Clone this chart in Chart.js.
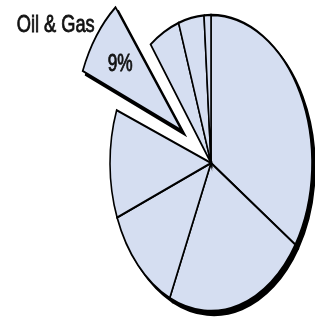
<!DOCTYPE html>
<html>
<head>
<meta charset="utf-8">
<script src="https://cdn.jsdelivr.net/npm/chart.js@4"></script>
<style>
  html, body { margin: 0; background: #fff; }
  #wrap { width: 315px; height: 327px; }
</style>
</head>
<body>
<div id="wrap"><canvas id="pieChart"></canvas></div>
<script>
// shares, clockwise from 12 o'clock
const sectors = ['Sector A', 'Sector B', 'Sector C', 'Sector D', 'Oil & Gas', 'Sector E', 'Sector F', 'Sector G'];
const sectorShares = [34.3, 22.4, 12.3, 11.8, 9, 5.0, 4.1, 1.1];
const explodedSector = 'Oil & Gas';
const explodedLabel = '9%';

const explodedIndex = sectors.indexOf(explodedSector);
const pieRadius = 148;          // vertical radius
const squashX = 101 / 148;      // pie is drawn as an upright ellipse
const explodeOffset = 215;
const fillBlue = '#d5def1';

function squash(ctx, x, y) {
  ctx.translate(x, y);
  ctx.scale(squashX, 1);
  ctx.translate(-x, -y);
}

function drawFitted(ctx, text, x, y, size, width, align) {
  ctx.save();
  ctx.font = size + 'px "Liberation Sans Narrow", "Liberation Sans", sans-serif';
  const k = width / ctx.measureText(text).width;
  ctx.translate(x, y);
  ctx.scale(k, 1);
  ctx.textAlign = align;
  ctx.textBaseline = 'alphabetic';
  ctx.fillStyle = '#111';
  ctx.strokeStyle = '#111';
  ctx.lineWidth = 0.8;
  ctx.fillText(text, 0, 0);
  ctx.strokeText(text, 0, 0);
  ctx.restore();
}

const ellipsePie = {
  id: 'ellipsePie',
  afterDatasetsUpdate(chart) {
    // exploded wedge is a bit longer than the rest
    const arc = chart.getDatasetMeta(0).data[explodedIndex];
    const fix = 1 - Math.sin(Math.min(Math.PI, arc.circumference));
    arc.outerRadius = pieRadius * 1.06 - (explodeOffset / 4) * fix;
  },
  beforeDatasetsDraw(chart) {
    const ctx = chart.ctx;
    const arcs = chart.getDatasetMeta(0).data;
    const {x, y} = arcs[0];
    // hard drop shadow
    ctx.save();
    ctx.translate(3, 4);
    squash(ctx, x, y);
    arcs.forEach(a => {
      const o = a.options;
      a.options = Object.assign({}, o, {backgroundColor: '#000', borderColor: '#000'});
      a.draw(ctx);
      a.options = o;
    });
    ctx.restore();
    ctx.save();
    squash(ctx, x, y);
  },
  afterDatasetsDraw(chart) {
    const ctx = chart.ctx;
    ctx.restore();
    const arc = chart.getDatasetMeta(0).data[explodedIndex];
    const shift = explodeOffset / 4;
    const mid = (arc.startAngle + arc.endAngle) / 2;
    const fix = 1 - Math.sin(Math.min(Math.PI, arc.circumference));
    const outer = arc.outerRadius + shift * fix;

    const d = shift + 0.72 * outer;
    const lx = arc.x + Math.cos(mid) * d * squashX;
    const ly = arc.y + Math.sin(mid) * d;
    drawFitted(ctx, explodedLabel, lx, ly + 9, 23, 25, 'center');

    const cx = Math.cos(mid) * shift + Math.cos(arc.endAngle) * outer;
    const cy = Math.sin(mid) * shift + Math.sin(arc.endAngle) * outer;
    const tx = arc.x + cx * squashX;
    const ty = arc.y + cy;
    drawFitted(ctx, explodedSector, tx - 23, ty + 27, 24, 78, 'right');
  }
};

new Chart(document.getElementById('pieChart'), {
  type: 'pie',
  data: {
    labels: sectors,
    datasets: [{
      data: sectorShares,
      backgroundColor: fillBlue,
      borderColor: '#000',
      borderWidth: 2.3,
      borderJoinStyle: 'miter',
      radius: pieRadius,
      cutout: '0%',
      offset: sectors.map(s => s === explodedSector ? explodeOffset : 0),
      clip: false
    }]
  },
  options: {
    responsive: true,
    maintainAspectRatio: false,
    animation: false,
    events: [],
    layout: { padding: { left: 107, right: 0, top: 0, bottom: 1 } },
    plugins: {
      legend: { display: false },
      tooltip: { enabled: false }
    }
  },
  plugins: [ellipsePie]
});
</script>
</body>
</html>
